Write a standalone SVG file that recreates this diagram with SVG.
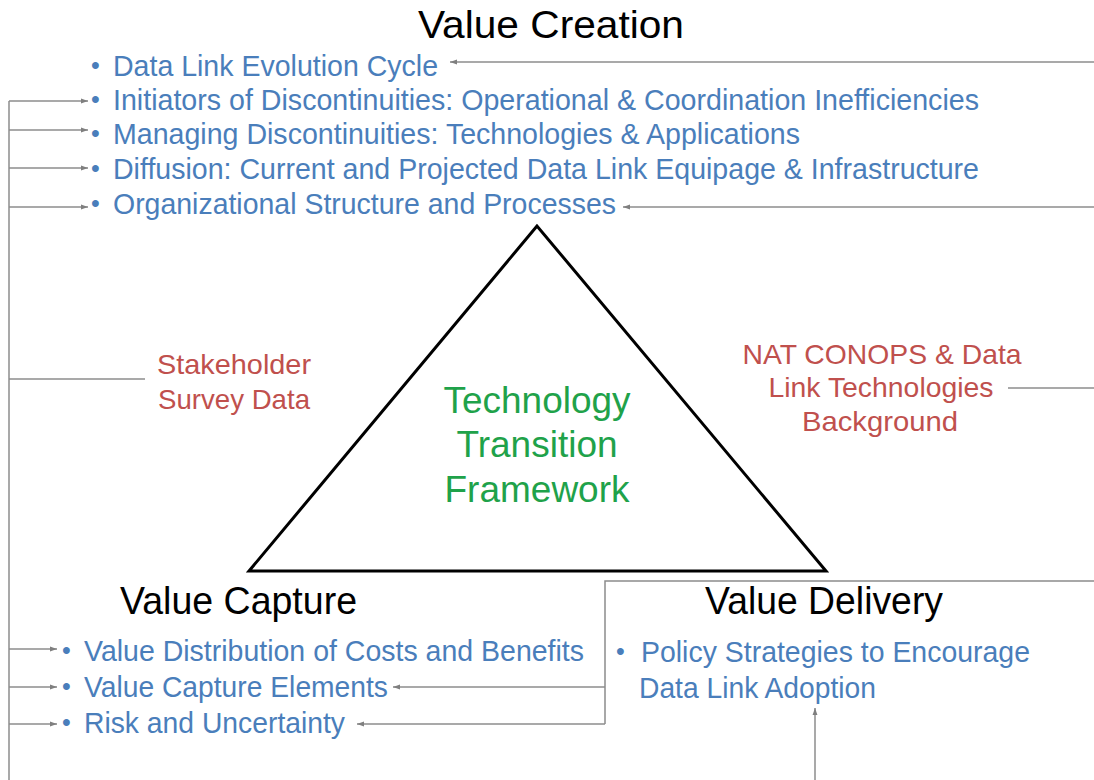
<svg xmlns="http://www.w3.org/2000/svg" width="1094" height="780" viewBox="0 0 1094 780">
<defs>
<style>
.t{font-family:"Liberation Sans",Arial,sans-serif;}
.title{font-size:39px;fill:#000;}
.b{font-size:29px;fill:#4A7EBB;}
.d{font-size:25px;fill:#4A7EBB;}
.r{font-size:28px;fill:#C0504D;text-anchor:middle;}
.g{font-size:37px;fill:#1FA24A;text-anchor:middle;}
.ln{stroke:#8C8C8C;stroke-width:1.5;fill:none;}
</style>
<marker id="ah" viewBox="0 0 10 10" refX="10" refY="5" markerWidth="8" markerHeight="7" markerUnits="userSpaceOnUse" orient="auto">
<path d="M0,1.5 L10,5 L0,8.5 z" fill="#7F7F7F"/>
</marker>
</defs>
<rect width="1094" height="780" fill="#fff"/>

<g id="connectors">
<path class="ln" d="M9,780 V101"/>
<path class="ln" d="M9,101 H88" marker-end="url(#ah)"/>
<path class="ln" d="M9,130 H88" marker-end="url(#ah)"/>
<path class="ln" d="M9,168 H88" marker-end="url(#ah)"/>
<path class="ln" d="M9,207 H88" marker-end="url(#ah)"/>
<path class="ln" d="M9,379 H145"/>
<path class="ln" d="M9,649 H57" marker-end="url(#ah)"/>
<path class="ln" d="M9,687 H57" marker-end="url(#ah)"/>
<path class="ln" d="M9,724 H57" marker-end="url(#ah)"/>
<path class="ln" d="M1094,62 H450" marker-end="url(#ah)"/>
<path class="ln" d="M1094,207 H623" marker-end="url(#ah)"/>
<path class="ln" d="M1094,388 H1008"/>
<path class="ln" d="M1094,581 H605 V724"/>
<path class="ln" d="M605,687 H393" marker-end="url(#ah)"/>
<path class="ln" d="M605,724 H357" marker-end="url(#ah)"/>
<path class="ln" d="M815,780 V708" marker-end="url(#ah)"/>
</g>

<g id="framework">
<polygon points="537,226 249,571 826,571" fill="none" stroke="#000" stroke-width="3" stroke-linejoin="miter"/>
<text class="t g" x="537" y="413" textLength="187" lengthAdjust="spacingAndGlyphs">Technology</text>
<text class="t g" x="537" y="457">Transition</text>
<text class="t g" x="537" y="502">Framework</text>
</g>

<g id="value-creation">
<text class="t title" x="418" y="38" textLength="266" lengthAdjust="spacingAndGlyphs">Value Creation</text>
<text class="t d" x="91" y="74">•</text>
<text class="t b" x="113" y="76" textLength="325" lengthAdjust="spacingAndGlyphs">Data Link Evolution Cycle</text>
<text class="t d" x="91" y="108">•</text>
<text class="t b" x="113" y="110" textLength="866" lengthAdjust="spacingAndGlyphs">Initiators of Discontinuities: Operational &amp; Coordination Inefficiencies</text>
<text class="t d" x="91" y="142">•</text>
<text class="t b" x="113" y="144" textLength="687" lengthAdjust="spacingAndGlyphs">Managing Discontinuities: Technologies &amp; Applications</text>
<text class="t d" x="91" y="177">•</text>
<text class="t b" x="113" y="179" textLength="866" lengthAdjust="spacingAndGlyphs">Diffusion: Current and Projected Data Link Equipage &amp; Infrastructure</text>
<text class="t d" x="91" y="212">•</text>
<text class="t b" x="113" y="214" textLength="503" lengthAdjust="spacingAndGlyphs">Organizational Structure and Processes</text>
</g>

<g id="stakeholder">
<text class="t r" x="234" y="374" textLength="154" lengthAdjust="spacingAndGlyphs">Stakeholder</text>
<text class="t r" x="234" y="409" textLength="152" lengthAdjust="spacingAndGlyphs">Survey Data</text>
</g>

<g id="natconops">
<text class="t r" x="882" y="364" textLength="279" lengthAdjust="spacingAndGlyphs">NAT CONOPS &amp; Data</text>
<text class="t r" x="881" y="397" textLength="225" lengthAdjust="spacingAndGlyphs">Link Technologies</text>
<text class="t r" x="880" y="431" textLength="156" lengthAdjust="spacingAndGlyphs">Background</text>
</g>

<g id="value-capture">
<text class="t title" x="120" y="614" textLength="237" lengthAdjust="spacingAndGlyphs">Value Capture</text>
<text class="t d" x="62" y="659">•</text>
<text class="t b" x="84" y="661" textLength="500" lengthAdjust="spacingAndGlyphs">Value Distribution of Costs and Benefits</text>
<text class="t d" x="62" y="695">•</text>
<text class="t b" x="84" y="697" textLength="304" lengthAdjust="spacingAndGlyphs">Value Capture Elements</text>
<text class="t d" x="62" y="731">•</text>
<text class="t b" x="84" y="733" textLength="261" lengthAdjust="spacingAndGlyphs">Risk and Uncertainty</text>
</g>

<g id="value-delivery">
<text class="t title" x="705" y="614" textLength="238" lengthAdjust="spacingAndGlyphs">Value Delivery</text>
<text class="t d" x="616" y="660">•</text>
<text class="t b" x="641" y="662" textLength="389" lengthAdjust="spacingAndGlyphs">Policy Strategies to Encourage</text>
<text class="t b" x="639" y="698" textLength="237" lengthAdjust="spacingAndGlyphs">Data Link Adoption</text>
</g>
</svg>
